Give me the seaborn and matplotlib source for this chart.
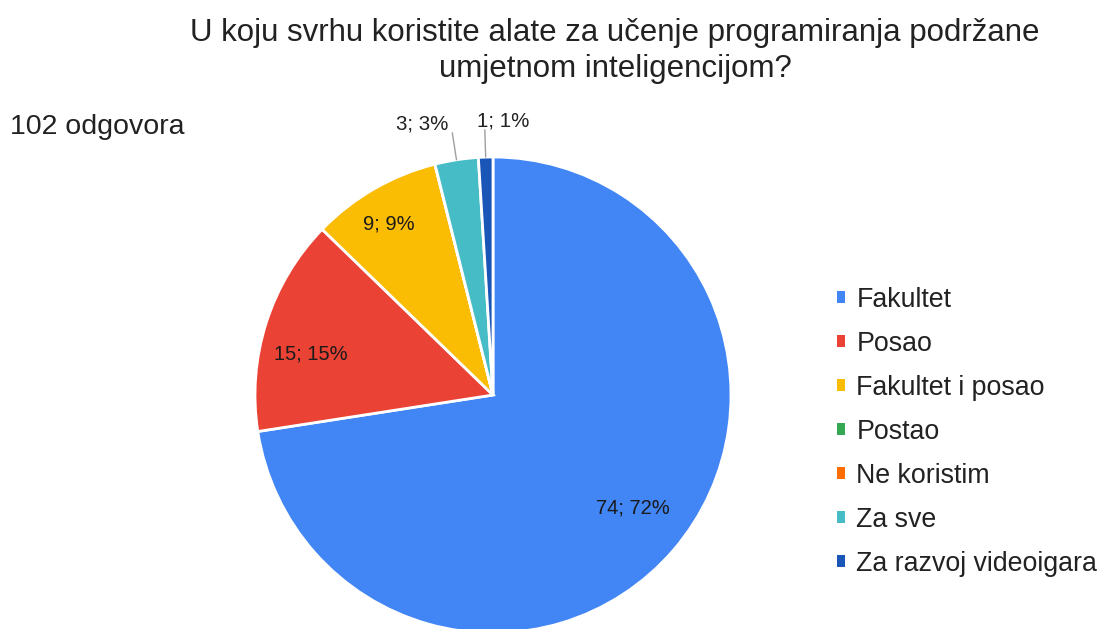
import numpy as np
import matplotlib
matplotlib.use("Agg")
import matplotlib.pyplot as plt
import seaborn as sns

# ---- data ----
categories = ["Fakultet", "Posao", "Fakultet i posao", "Postao",
              "Ne koristim", "Za sve", "Za razvoj videoigara"]
counts = [74, 15, 9, 0, 0, 3, 1]
title_text = "U koju svrhu koristite alate za učenje programiranja podržane\numjetnom inteligencijom?"
subtitle_text = "102 odgovora"

# ---- style ----
colors = ["#4285F4", "#EA4335", "#FBBC04", "#34A853", "#FF6D01", "#46BDC6", "#1A55B8"]
inside_r = [0.75, 0.79, 0.85, None, None, None, None]
inside_off = [(4, -3), (-3, 16), (-3, 4), (0, 0), (0, 0), (0, 0), (0, 0)]  # px
outside_dx = [0, 0, 0, 0, 0, -4, -8]   # px shift of outside labels
outside_ha = ["center"] * 5 + ["right", "left"]


def largest_remainder_pct(vals):
    tot = sum(vals)
    raw = [100 * v / tot for v in vals]
    fl = [int(np.floor(r)) for r in raw]
    rest = 100 - sum(fl)
    order = sorted(range(len(vals)), key=lambda k: raw[k] - fl[k], reverse=True)
    for k in order[:rest]:
        fl[k] += 1
    return fl


sns.set_theme(style="white")
plt.rcParams["font.family"] = ["Liberation Sans", "DejaVu Sans"]

W, H = 1103, 629
fig = plt.figure(figsize=(W / 100, H / 100), dpi=100)
cx, cy, R = 493, 395, 238
ax = fig.add_axes([(cx - R) / W, (H - cy - R) / H, 2 * R / W, 2 * R / H])

wedges, _ = ax.pie(counts, colors=colors, startangle=90, counterclock=False,
                   wedgeprops=dict(edgecolor="white", linewidth=2))
ax.set_xlim(-1, 1)
ax.set_ylim(-1, 1)
ax.set_aspect("equal")
for w in wedges:
    w.set_clip_on(False)

pcts = largest_remainder_pct(counts)
for i, (w, c) in enumerate(zip(wedges, counts)):
    if c == 0:
        continue
    mid = np.deg2rad((w.theta1 + w.theta2) / 2)
    txt = f"{c}; {pcts[i]}%"
    if inside_r[i] is not None:
        r = inside_r[i]
        dx, dy = inside_off[i]
        ax.text(r * np.cos(mid) + dx / R, r * np.sin(mid) - dy / R, txt,
                ha="center", va="center", fontsize=14.5, color="#1a1a1a")
    else:
        x0, y0 = np.cos(mid), np.sin(mid)
        x1, y1 = 1.115 * np.cos(mid), 1.115 * np.sin(mid)
        ax.plot([x0, x1], [y0, y1], color="#9e9e9e", lw=1, clip_on=False)
        ax.text(x1 + outside_dx[i] / R, y1 - 0.003, txt, ha=outside_ha[i], va="bottom",
                fontsize=14.8, color="#222222")

fig.text(615 / W, 1 - 51 / H, title_text, ha="center", va="center",
         fontsize=22.5, color="#222222", linespacing=1.26)
fig.text(10 / W, 1 - 127 / H, subtitle_text, ha="left", va="center",
         fontsize=20.5, color="#222222")

leg = fig.legend(wedges, categories, loc="upper left",
                 bbox_to_anchor=(837 / W, 1 - 287 / H), frameon=False,
                 fontsize=19.3, handlelength=0.3, handleheight=0.3,
                 handletextpad=0.42, labelspacing=0.67, borderaxespad=0,
                 borderpad=0)
for h in leg.legend_handles:
    h.set_edgecolor("none")
for t in leg.get_texts():
    t.set_color("#222222")

fig.savefig("out.png", dpi=100)
